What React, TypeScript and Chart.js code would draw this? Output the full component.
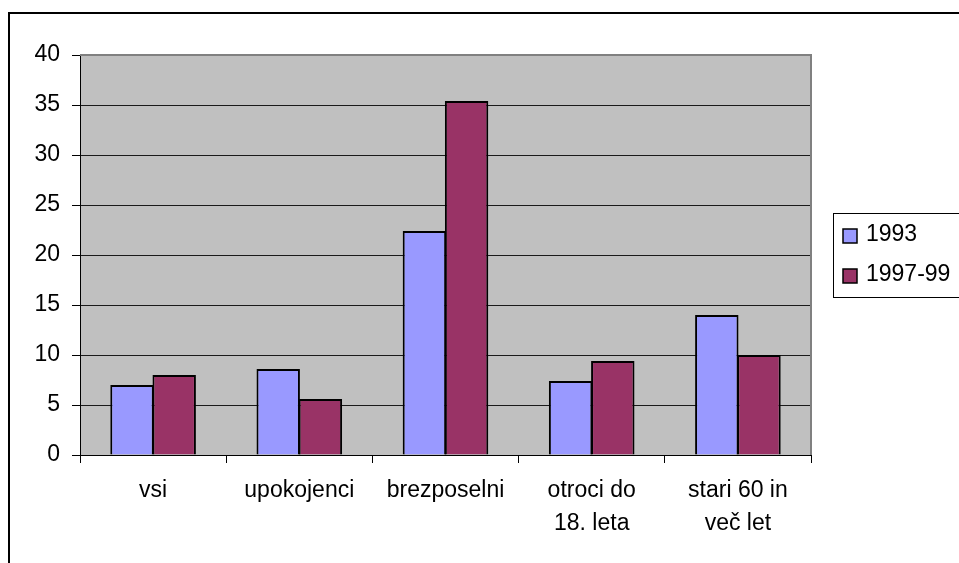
import React, { useEffect, useRef } from "react";
import { Chart, registerables } from "chart.js";

Chart.register(...registerables);

const categories: (string | string[])[] = [
  "vsi",
  "upokojenci",
  "brezposelni",
  ["otroci do", "18. leta"],
  ["stari 60 in", "več let"],
];
const series1993 = [7.0, 8.6, 22.4, 7.4, 14.0];
const series199799 = [8.0, 5.6, 35.4, 9.4, 10.0];
const seriesLabels = ["1993", "1997-99"];
const yTicks = [0, 5, 10, 15, 20, 25, 30, 35, 40];

const FONT = "'Liberation Sans', Arial, sans-serif";
const FONT_SIZE = 23;

const framePlugin = {
  id: "frame",
  beforeDraw(chart: any) {
    const { ctx, chartArea } = chart;
    ctx.save();
    ctx.fillStyle = "#ffffff";
    ctx.fillRect(0, 0, chart.width, chart.height);
    ctx.strokeStyle = "#000000";
    ctx.lineWidth = 2;
    ctx.strokeRect(9, 13, 2000, 2000);
    ctx.fillStyle = "#C0C0C0";
    ctx.fillRect(chartArea.left, chartArea.top, chartArea.right - chartArea.left, chartArea.bottom - chartArea.top);
    ctx.restore();
  },
  afterDatasetsDraw(chart: any) {
    const { ctx, chartArea } = chart;
    ctx.save();
    ctx.strokeStyle = "#808080";
    ctx.lineWidth = 2;
    ctx.beginPath();
    ctx.moveTo(chartArea.left, chartArea.top);
    ctx.lineTo(chartArea.right, chartArea.top);
    ctx.lineTo(chartArea.right, chartArea.bottom);
    ctx.stroke();
    ctx.restore();
  },
  afterDraw(chart: any) {
    const { ctx } = chart;
    ctx.save();
    ctx.strokeStyle = "#000000";
    ctx.lineWidth = 1;
    ctx.strokeRect(833.5, 213.5, 300, 84);
    ctx.font = `${FONT_SIZE}px ${FONT}`;
    ctx.textBaseline = "middle";
    ctx.textAlign = "left";
    chart.data.datasets.forEach((ds: any, i: number) => {
      const yc = 236 + i * 40;
      ctx.fillStyle = ds.backgroundColor;
      ctx.fillRect(843, yc - 7, 14, 14);
      ctx.lineWidth = 1.5;
      ctx.strokeStyle = "#000000";
      ctx.strokeRect(843, yc - 7, 14, 14);
      ctx.fillStyle = "#000000";
      ctx.fillText(ds.label, 866, yc - 1);
    });
    ctx.restore();
  },
};

export default function App() {
  const ref = useRef<HTMLCanvasElement>(null);
  useEffect(() => {
    if (!ref.current) return;
    const chart = new Chart(ref.current, {
      type: "bar",
      data: {
        labels: categories,
        datasets: [
          {
            label: seriesLabels[0],
            data: series1993,
            backgroundColor: "#9999FF",
            borderColor: "#000000",
            borderWidth: 2,
            categoryPercentage: 0.577,
            barPercentage: 1.03,
          },
          {
            label: seriesLabels[1],
            data: series199799,
            backgroundColor: "#993366",
            borderColor: "#000000",
            borderWidth: 2,
            categoryPercentage: 0.577,
            barPercentage: 1.03,
          },
        ],
      },
      options: {
        responsive: false,
        animation: false,
        devicePixelRatio: 1,
        layout: { padding: { left: 0, top: 55, right: 148, bottom: 0 } },
        plugins: {
          legend: { display: false },
          tooltip: { enabled: false },
        },
        scales: {
          x: {
            offset: true,
            grid: {
              offset: true,
              drawOnChartArea: false,
              drawTicks: true,
              tickLength: 8,
              tickColor: "#000000",
            },
            border: { color: "#000000", width: 1 },
            ticks: {
              color: "#000000",
              font: { family: FONT, size: FONT_SIZE, lineHeight: 1.45 },
              maxRotation: 0,
              minRotation: 0,
              autoSkip: false,
              padding: 11,
            },
            afterFit: (scale: any) => {
              scale.height = 108;
            },
          },
          y: {
            min: 0,
            max: 40,
            afterBuildTicks: (scale: any) => {
              scale.ticks = yTicks.map((v) => ({ value: v }));
            },
            grid: {
              color: "#1a1a1a",
              lineWidth: 1,
              tickLength: 8,
              tickColor: "#000000",
            },
            border: { color: "#000000", width: 1 },
            ticks: {
              color: "#000000",
              font: { family: FONT, size: FONT_SIZE },
              padding: 12,
            },
            afterFit: (scale: any) => {
              scale.width = 80;
            },
          },
        },
      },
      plugins: [framePlugin],
    });
    return () => chart.destroy();
  }, []);
  return (
    <div style={{ position: "fixed", left: 0, top: 0, width: 959, height: 563, overflow: "hidden", background: "#fff" }}>
      <canvas ref={ref} width={959} height={563} style={{ display: "block" }} />
    </div>
  );
}
